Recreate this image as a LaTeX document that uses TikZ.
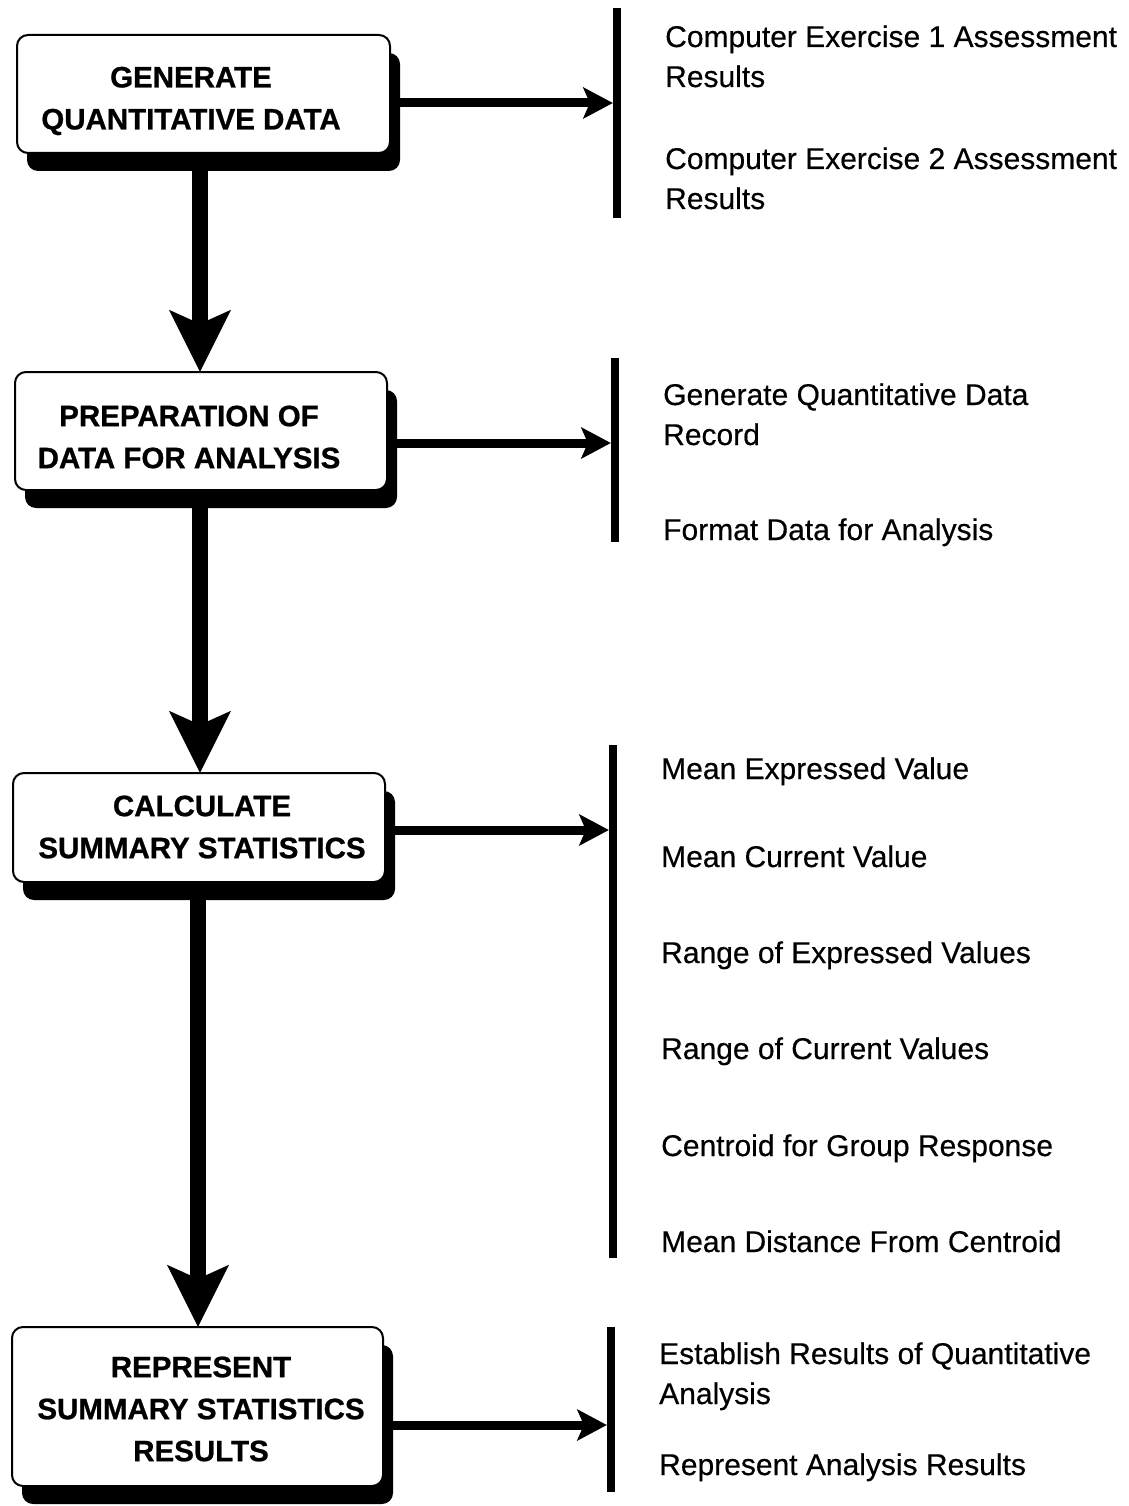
\documentclass[tikz,border=0pt]{standalone}
\usepackage{fontspec}
\setmainfont{Liberation Sans}
\newfontfamily\boxfont{Liberation Sans Bold}[FakeBold=0.8]
\newfontfamily\listfont{Liberation Sans}[FakeBold=0.4]
\usetikzlibrary{arrows.meta,shadows}
\begin{document}
\begin{tikzpicture}[x=1pt,y=-1pt,
  stagebox/.style={draw, line width=2pt, fill=white, rounded corners=11pt, inner sep=0pt,
    drop shadow={shadow xshift=10pt, shadow yshift=-18pt, opacity=1, fill=black}},
  steplabel/.style={font=\boxfont\fontsize{29.5}{42}\selectfont, align=center, inner sep=0pt},
  itemtext/.style={font=\listfont\fontsize{30}{40}\selectfont, anchor=base west, inner sep=0pt},
  bar/.style={fill=black, inner sep=0pt, minimum width=8pt},
  flow/.style={line width=16pt, -{Stealth[length=62pt,width=62pt,inset=14pt,line width=0pt]}},
  feed/.style={line width=9pt, -{Stealth[length=30pt,width=32pt,inset=7pt,line width=0pt]}}]
\useasboundingbox (0,0) rectangle (1128,1506);

% rows of the side arrows and columns of the down arrows
\coordinate (h1) at (0,103);
\coordinate (h2) at (0,443);
\coordinate (h3) at (0,830);
\coordinate (h4) at (0,1425);
\coordinate (v1) at (200,0);
\coordinate (v2) at (200,0);
\coordinate (v3) at (198,0);

% vertical bars that group the outputs
\node[bar, minimum height=210pt] (r1) at (617,113) {};
\node[bar, minimum height=184pt] (r2) at (615,450) {};
\node[bar, minimum height=513pt] (r3) at (613,1001.5) {};
\node[bar, minimum height=165pt] (r4) at (611,1409.5) {};

% box outlines (named first so the connectors can refer to them)
\path (203.5,94) node[minimum width=373pt, minimum height=118pt, inner sep=0pt] (b1) {};
\path (201,431) node[minimum width=372pt, minimum height=118pt, inner sep=0pt] (b2) {};
\path (199,827.5) node[minimum width=372pt, minimum height=109pt, inner sep=0pt] (b3) {};
\path (197.5,1406.5) node[minimum width=371pt, minimum height=159pt, inner sep=0pt] (b4) {};

% connectors, drawn below the boxes
\draw[flow] (b1.south -| v1) -- (b2.north -| v1);
\draw[flow] (b2.south -| v2) -- (b3.north -| v2);
\draw[flow] (b3.south -| v3) -- (b4.north -| v3);
\draw[feed] (b1.east |- h1) -- (r1.west |- h1);
\draw[feed] (b2.east |- h2) -- (r2.west |- h2);
\draw[feed] (b3.east |- h3) -- (r3.west |- h3);
\draw[feed] (b4.east |- h4) -- (r4.west |- h4);

% the process boxes with their shadows
\node[stagebox, minimum width=373pt, minimum height=118pt] (s1) at (b1) {};
\node[stagebox, minimum width=372pt, minimum height=118pt] (s2) at (b2) {};
\node[stagebox, minimum width=372pt, minimum height=109pt] (s3) at (b3) {};
\node[stagebox, minimum width=371pt, minimum height=159pt] (s4) at (b4) {};

\node[steplabel] (l1) at (191,101) {GENERATE\\QUANTITATIVE DATA};
\node[steplabel] (l2) at (189,437) {PREPARATION OF\\DATA FOR ANALYSIS};
\node[steplabel] (l3) at (202,827) {CALCULATE\\SUMMARY STATISTICS};
\node[steplabel] (l4) at (201,1409) {REPRESENT\\SUMMARY STATISTICS\\RESULTS};

% outputs of each step
\node[itemtext] (t1a) at (665,47) {Computer Exercise 1 Assessment};
\node[itemtext] (t1b) at (665,87) {Results};
\node[itemtext] (t1c) at (665,169) {Computer Exercise 2 Assessment};
\node[itemtext] (t1d) at (665,209) {Results};

\node[itemtext] (t2a) at (663,405) {Generate Quantitative Data};
\node[itemtext] (t2b) at (663,445) {Record};
\node[itemtext] (t2c) at (663,540) {Format Data for Analysis};

\node[itemtext] (t3a) at (661,779) {Mean Expressed Value};
\node[itemtext] (t3b) at (661,867) {Mean Current Value};
\node[itemtext] (t3c) at (661,963) {Range of Expressed Values};
\node[itemtext] (t3d) at (661,1059) {Range of Current Values};
\node[itemtext] (t3e) at (661,1156) {Centroid for Group Response};
\node[itemtext] (t3f) at (661,1252) {Mean Distance From Centroid};

\node[itemtext] (t4a) at (659,1364) {Establish Results of Quantitative};
\node[itemtext] (t4b) at (659,1404) {Analysis};
\node[itemtext] (t4c) at (659,1475) {Represent Analysis Results};
\end{tikzpicture}
\end{document}
